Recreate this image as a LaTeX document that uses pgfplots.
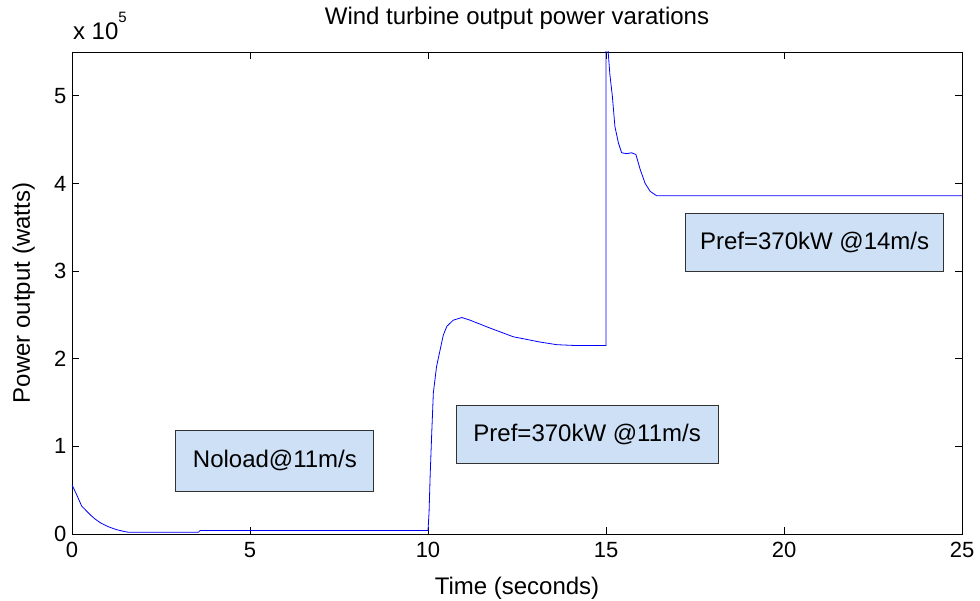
\documentclass[border=0pt]{standalone}
\usepackage{pgfplots}
\pgfplotsset{compat=1.18}
\usepackage{fontspec}
\setmainfont{Liberation Sans}
\definecolor{boxfill}{RGB}{205,224,245}
\definecolor{boxdraw}{RGB}{50,50,50}
\begin{document}
\begin{tikzpicture}
\useasboundingbox (-72pt,-67pt) rectangle (908pt,534pt);
\begin{axis}[
  at={(0pt,0pt)}, anchor=south west,
  scale only axis, width=890pt, height=482pt,
  xmin=0, xmax=25, ymin=0, ymax=550000,
  xtick={0,5,10,15,20,25},
  ytick={0,100000,200000,300000,400000,500000},
  yticklabels={0,1,2,3,4,5},
  scaled y ticks=false,
  tick align=inside, major tick length=7pt,
  xtick pos=both, ytick pos=both,
  axis line style={line width=0.9pt},
  every tick/.style={line width=0.8pt, black},
  /pgf/number format/assume math mode=true,
  ticklabel style={font=\fontsize{22}{26}\selectfont},
  xticklabel style={yshift=-5pt},
  yticklabel style={xshift=-2pt},
  title={Wind turbine output power varations},
  title style={at={(axis description cs:0.5,1.0456)}, anchor=base, font=\fontsize{24}{28}\selectfont},
  xlabel={Time (seconds)},
  xlabel style={at={(axis description cs:0.5,-0.1245)}, anchor=base, font=\fontsize{24}{28}\selectfont},
  ylabel={Power output (watts)},
  ylabel style={at={(axis description cs:-0.0472,0.5)}, anchor=base, font=\fontsize{24}{28}\selectfont},
  clip mode=individual,
]
\addplot[blue, line width=0.8pt] coordinates {
(0,56000) (0.13,45000) (0.27,32000) (0.51,22000) (0.65,17000) (0.79,13000) (0.93,10000) (1.07,7500) (1.25,5000) (1.45,3000) (1.58,2000) (3.55,2000) (3.6,4000) (10.0,4000)
(10.03,25000) (10.06,66000) (10.1,110000) (10.15,161000) (10.24,191000) (10.34,210000) (10.43,227000) (10.53,237000) (10.71,244000) (10.95,247000) (11.18,244000) (11.74,235000) (12.40,225000) (13.15,219000) (13.62,216000) (14.18,215000) (15.0,215000)
(15.0,700000) (15.06,550500) (15.11,524000) (15.18,499000) (15.25,465000) (15.35,446000) (15.44,435000) (15.58,434000) (15.72,435000) (15.84,433000) (15.96,416000) (16.10,400000) (16.24,391000) (16.42,386000) (25,386000)
};
\draw[fill=boxfill, draw=boxdraw, line width=1pt] (axis cs:2.92,49000) rectangle (axis cs:8.48,118000);
\node[font=\fontsize{24}{28}\selectfont] at (axis cs:5.70,83500) {Noload@11m/s};
\draw[fill=boxfill, draw=boxdraw, line width=1pt] (axis cs:10.79,80000) rectangle (axis cs:18.15,146500);
\node[font=\fontsize{24}{28}\selectfont] at (axis cs:14.47,113250) {Pref=370kW @11m/s};
\draw[fill=boxfill, draw=boxdraw, line width=1pt] (axis cs:17.23,299000) rectangle (axis cs:24.49,366000);
\node[font=\fontsize{24}{28}\selectfont] at (axis cs:20.86,332500) {Pref=370kW @14m/s};
\node[anchor=base west, inner sep=0pt, font=\fontsize{24}{28}\selectfont] at (axis description cs:0.001,1.0249) {x 10\raisebox{17pt}{\fontsize{15}{17}\selectfont 5}};
\end{axis}
\end{tikzpicture}
\end{document}
